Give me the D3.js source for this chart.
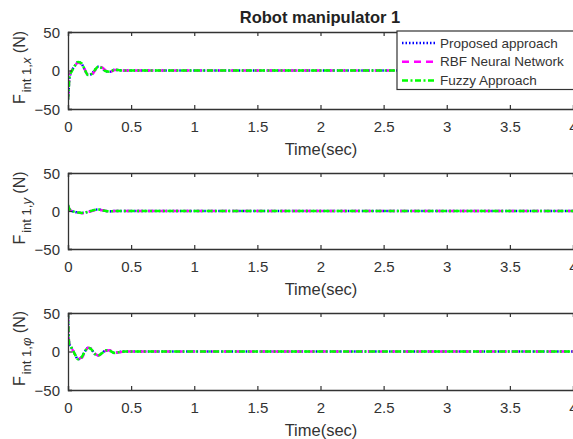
<!DOCTYPE html>
<html><head><meta charset="utf-8">
<script src="https://cdn.jsdelivr.net/npm/d3@7"></script>
<style>body{margin:0;background:#fff}svg{display:block}text{font-family:"Liberation Sans",Arial,sans-serif}</style>
</head><body>
<svg id="c" width="573" height="439"></svg>
<script>
// ---- data ----
const seriesNames = ["Proposed approach", "RBF Neural Network", "Fuzzy Approach"];
const xTicks = [0, 0.5, 1, 1.5, 2, 2.5, 3, 3.5, 4];
const yTicks = [-50, 0, 50];
const time = [0, 0.005, 0.01, 0.02, 0.03, 0.05, 0.08, 0.11, 0.13, 0.16, 0.19, 0.21, 0.24, 0.27, 0.3, 0.33, 0.37, 0.4, 0.45, 0.5, 1, 2, 3, 4];
// panel 1: F_int1,x
const fx_prop  = [-38, -26, -11, -4, 0, 5, 11, 8, 2, -6, -4, 0, 5, 3, -1, -1.5, 1, 0.5, 0, 0, 0, 0, 0, 0];
const fx_rbf   = [-37, -25, -10, -3, 0, 5, 10, 8, 2, -6, -5, -1, 5, 4, 0, -2, 0.5, 0.5, 0, 0, 0, 0, 0, 0];
const fx_fuzzy = [-38, -27, -12, -4, -1, 5, 11, 9, 2, -6, -4, 0, 5, 3, -1, -1.5, 1, 0.5, 0, 0, 0, 0, 0, 0];
// panel 2: F_int1,y
const fy_prop  = [7, 5, 3, 1, 0, -1, -2, -2.5, -2, -1, 0.5, 1.5, 2, 1, 0, -0.5, 0, 0, 0, 0, 0, 0, 0, 0];
const fy_rbf   = [7, 5, 3, 1, 0, -1, -2, -3, -2.5, -1, 0, 1, 2, 1, 0, -0.5, 0, 0, 0, 0, 0, 0, 0, 0];
const fy_fuzzy = [8, 5, 3, 1, 0, -1, -2, -2.5, -2, -1, 0.5, 1.5, 2, 1, 0, -0.5, 0, 0, 0, 0, 0, 0, 0, 0];
// panel 3: F_int1,phi
const fp_prop  = [50, 20, 10, 7, 4, -2, -10, -7, -1, 5, 2, -3, -5, -2, 1.5, 1, -2, -1, 0, 0, 0, 0, 0, 0];
const fp_rbf   = [49, 20, 10, 7, 4, -2, -9, -8, -2, 5, 3, -2, -5, -3, 1, 1.5, -1.5, -1, 0, 0, 0, 0, 0, 0];
const fp_fuzzy = [50, 21, 10, 8, 4, -2, -10, -7, -1, 5, 2, -3, -5, -2, 1.5, 1, -2, -1, 0, 0, 0, 0, 0, 0];

const panels = [
  {sub: "int 1,", v: "x", data: [fx_prop, fx_rbf, fx_fuzzy], top: 32, bottom: 109},
  {sub: "int 1,", v: "y", data: [fy_prop, fy_rbf, fy_fuzzy], top: 173, bottom: 249},
  {sub: "int 1,", v: "φ", data: [fp_prop, fp_rbf, fp_fuzzy], top: 313, bottom: 390}
];
const styles = [
  {color: "#0000ff", dash: "1.5,2", width: 2.5},
  {color: "#ff00ff", dash: "7,5", width: 2.5},
  {color: "#00ff00", dash: "6,2.5,2,2.5", width: 2.5}
];

const svg = d3.select("#c");
const left = 68;
const x = d3.scaleLinear().domain([0, 4]).range([left, 573]);
const axisColor = "#333";
const font = '"Liberation Sans",Arial,sans-serif';

panels.forEach((p, i) => {
  const y = d3.scaleLinear().domain([-50, 50]).range([p.bottom, p.top]);
  const g = svg.append("g");
  const clipId = "clip" + i;
  svg.append("clipPath").attr("id", clipId).append("rect")
    .attr("x", left).attr("y", p.top - 2).attr("width", 573 - left).attr("height", p.bottom - p.top + 4);
  const line = d3.line().x((d, k) => x(time[k])).y(d => y(d)).curve(d3.curveMonotoneX);
  p.data.forEach((s, si) => {
    g.append("path").attr("d", line(s)).attr("clip-path", `url(#${clipId})`)
      .attr("fill", "none").attr("stroke", styles[si].color)
      .attr("stroke-width", styles[si].width).attr("stroke-dasharray", styles[si].dash);
  });
  const bottomAxis = d3.axisBottom(x).tickValues(xTicks).tickSize(-4).tickPadding(12).tickFormat(d3.format("~g"));
  const topAxis = d3.axisTop(x).tickValues(xTicks).tickSize(-4).tickFormat("");
  const leftAxis = d3.axisLeft(y).tickValues(yTicks).tickSize(-4).tickPadding(8).tickFormat(d3.format("~g"));
  const ab = g.append("g").attr("transform", `translate(0,${p.bottom})`).call(bottomAxis);
  const at = g.append("g").attr("transform", `translate(0,${p.top})`).call(topAxis);
  const al = g.append("g").attr("transform", `translate(${left},0)`).call(leftAxis);
  [ab, at, al].forEach(a => {
    a.select(".domain").attr("stroke", axisColor).attr("stroke-width", 1.3);
    a.selectAll(".tick line").attr("stroke", axisColor).attr("stroke-width", 1.2);
    a.selectAll(".tick text").attr("fill", "#333").attr("font-size", 15).attr("font-family", font);
  });
  al.selectAll(".tick text").attr("dy", "0.35em");
  g.append("text").attr("x", 321).attr("y", p.bottom + 46).attr("text-anchor", "middle")
    .attr("font-size", 16.5).attr("fill", "#333").text("Time(sec)");
  const yl = g.append("text").attr("transform", `translate(25,${(p.top + p.bottom) / 2 - 3}) rotate(-90)`)
    .attr("text-anchor", "middle").attr("font-size", 16).attr("fill", "#333");
  yl.append("tspan").text("F");
  yl.append("tspan").attr("font-size", 13).attr("dy", 6).attr("dx", 2).text(p.sub);
  yl.append("tspan").attr("font-size", 13).attr("font-style", "italic").text(p.v);
  yl.append("tspan").attr("dy", -6).text(" (N)");
});

svg.append("text").attr("x", 320).attr("y", 23).attr("text-anchor", "middle")
  .attr("font-size", 16.5).attr("font-weight", "bold").attr("fill", "#222").text("Robot manipulator 1");

const lg = svg.append("g");
lg.append("rect").attr("x", 397).attr("y", 31).attr("width", 190).attr("height", 58.5)
  .attr("fill", "#fff").attr("stroke", axisColor).attr("stroke-width", 1.2);
seriesNames.forEach((n, i) => {
  const yy = 43 + i * 18.7;
  lg.append("line").attr("x1", 402).attr("x2", 436).attr("y1", yy).attr("y2", yy)
    .attr("stroke", styles[i].color).attr("stroke-width", 2.5).attr("stroke-dasharray", styles[i].dash);
  lg.append("text").attr("x", 440).attr("y", yy + 4.5).attr("font-size", 13.5).attr("fill", "#333").text(n);
});
</script>
</body></html>
